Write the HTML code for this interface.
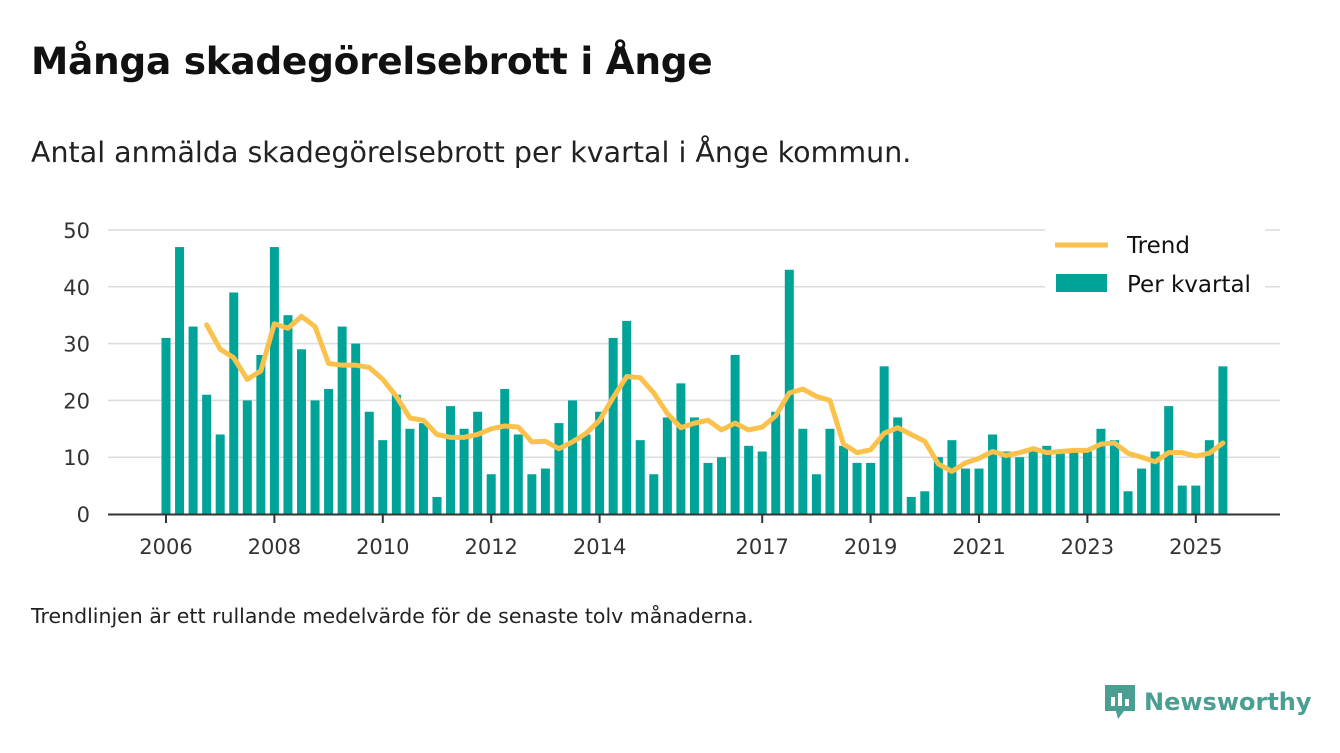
<!DOCTYPE html>
<html><head><meta charset="utf-8"><style>
body{margin:0;width:1340px;height:753px;background:#fff;font-family:"DejaVu Sans","Liberation Sans",sans-serif;color:#111;overflow:hidden;position:relative}
.t{position:absolute;left:31px;top:39px;font-size:37.5px;font-weight:bold;margin:0;letter-spacing:-0.3px}
.s{position:absolute;left:31px;top:136px;font-size:28.5px;color:#222}
.f{position:absolute;left:31px;top:604px;font-size:20.5px;color:#222}
.logo{position:absolute;left:1103px;top:683px;font-size:24px;font-weight:bold;color:#4a9e92;display:flex;align-items:center;gap:7px}
svg{position:absolute;left:0;top:0}
</style></head><body>
<h1 class="t">Många skadegörelsebrott i Ånge</h1>
<div class="s">Antal anmälda skadegörelsebrott per kvartal i Ånge kommun.</div>
<svg id="c" width="1340" height="753"></svg>
<div class="f">Trendlinjen är ett rullande medelvärde för de senaste tolv månaderna.</div>
<div class="logo"><svg width="34" height="38" style="position:static"><path d="M2 2h30v26H21l-6 8-2-8H2z" fill="#4a9e92"/><rect x="8" y="14" width="4" height="9" fill="#fff"/><rect x="15" y="10" width="4" height="13" fill="#fff"/><rect x="22" y="16" width="4" height="7" fill="#fff"/></svg><span>Newsworthy</span></div>
<script>
const values=[31,47,33,21,14,39,20,28,47,35,29,20,22,33,30,18,13,21,15,16,3,19,15,18,7,22,14,7,8,16,20,14,18,31,34,13,7,17,23,17,9,10,28,12,11,18,43,15,7,15,12,9,9,26,17,3,4,10,13,8,8,14,11,10,11,12,11,11,11,15,13,4,8,11,19,5,5,13,26];
const trend=[null,null,null,33.3,29,27.5,23.7,25.2,33.5,32.7,34.8,33,26.5,26.2,26.2,25.8,23.7,20.7,16.9,16.5,14,13.5,13.5,14,15,15.5,15.3,12.7,12.8,11.5,12.7,14.2,16.5,20.5,24.2,24,21.3,17.7,15.2,16,16.5,14.8,16,14.8,15.3,17.3,21.3,22,20.7,20,12.3,10.8,11.3,14.2,15.2,14,12.8,8.8,7.5,9,9.8,11,10.3,10.8,11.5,10.8,11,11.2,11.2,12.3,12.5,10.7,10,9.2,10.8,10.8,10.2,10.7,12.5];
const yTicks=[0,10,20,30,40,50];
const xTickIdx=[0,8,16,24,32,44,52,60,68,76];
const xTickLabels=["2006","2008","2010","2012","2014","2017","2019","2021","2023","2025"];
const NS="http://www.w3.org/2000/svg",svg=document.getElementById('c');
const x=i=>166+i*13.55, y=v=>514-v*5.68;
function mk(t,a,p){const e=document.createElementNS(NS,t);for(const k in a)e.setAttribute(k,a[k]);(p||svg).appendChild(e);return e;}
yTicks.forEach(v=>{
 if(v>0){const g=mk('line',{x1:108,x2:1280,y1:y(v),y2:y(v),stroke:'#dcdcdc','stroke-width':1.5});
 
 }
 const t=mk('text',{x:90,y:y(v)+8,'text-anchor':'end','font-size':21,fill:'#333'});t.textContent=v;
 
 
});
values.forEach((v,i)=>{const r=mk('rect',{x:x(i)-4.5,y:y(v),width:9,height:v*5.68,fill:'#00a398'});
 
 });
const ax=mk('line',{x1:108,x2:1280,y1:514.5,y2:514.5,stroke:'#333','stroke-width':2});


xTickIdx.forEach((idx,k)=>{mk('line',{x1:x(idx),x2:x(idx),y1:515,y2:523,stroke:'#333','stroke-width':2});
 const t=mk('text',{x:x(idx),y:554,'text-anchor':'middle','font-size':21,fill:'#333'});t.textContent=xTickLabels[k];
 
 });
let d='';trend.forEach((v,i)=>{if(v!=null)d+=(d?'L':'M')+x(i)+' '+y(v);});
const p=mk('path',{d:d,fill:'none',stroke:'#fbc14b','stroke-width':5,'stroke-linejoin':'round','stroke-linecap':'round'});


const lg=mk('g',{});


mk('rect',{x:1045,y:223,width:220,height:78,fill:'#fff'},lg);
mk('line',{x1:1055,x2:1108,y1:245,y2:245,stroke:'#fbc14b','stroke-width':5},lg);
let t1=mk('text',{x:1127,y:253,'font-size':23,fill:'#111'},lg);t1.textContent='Trend';
mk('rect',{x:1056,y:274,width:51,height:18,fill:'#00a398'},lg);
let t2=mk('text',{x:1127,y:292,'font-size':23,fill:'#111'},lg);t2.textContent='Per kvartal';
</script>
</body></html>
